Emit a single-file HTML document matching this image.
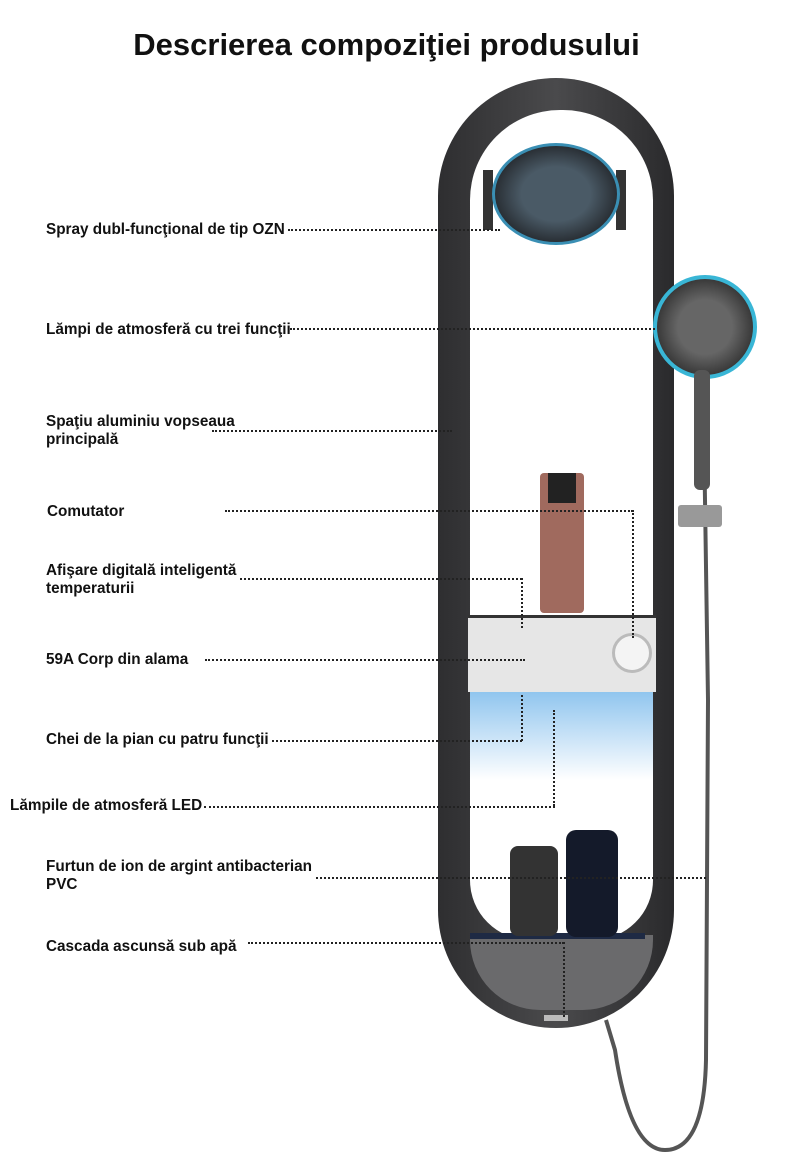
<!DOCTYPE html><html><head><style>
body{margin:0;width:789px;height:1165px;background:#fff;position:relative;overflow:hidden;font-family:"Liberation Sans",sans-serif}
.t{position:absolute;font-size:15.3px;font-weight:bold;color:#111;line-height:18px;white-space:nowrap}
.h{position:absolute;border-top:2px dotted #222;height:0}
.v{position:absolute;border-left:2px dotted #222;width:0}
</style></head><body>
<div style="position:absolute;top:27px;left:-8px;width:789px;text-align:center;font-size:31px;font-weight:bold;color:#111">Descrierea compoziţiei produsului</div>
<svg style="position:absolute;left:0;top:0" width="789" height="1165">
<path d="M703 380 L705 500 L708 700 L706 1060 Q704 1150 665 1150 Q630 1150 615 1050 L606 1020" fill="none" stroke="#555" stroke-width="4"/>
</svg>
<div style="position:absolute;left:438px;top:78px;width:236px;height:950px;border-radius:118px;background:linear-gradient(90deg,#2e2e30,#4a4a4c 50%,#2a2a2c)"></div>
<div style="position:absolute;left:470px;top:110px;width:183px;height:830px;background:#fff;border-radius:90px 90px 60px 60px"></div>
<div style="position:absolute;left:470px;top:690px;width:183px;height:90px;background:linear-gradient(#8ec4ee,#fff)"></div>
<div style="position:absolute;left:470px;top:935px;width:183px;height:75px;background:#6a6a6c;border-radius:0 0 70px 70px"></div>
<div style="position:absolute;left:470px;top:933px;width:175px;height:6px;background:#1e2a44"></div>
<div style="position:absolute;left:468px;top:615px;width:188px;height:74px;background:#e6e6e6;border-top:3px solid #333"></div>
<div style="position:absolute;left:612px;top:633px;width:34px;height:34px;border-radius:50%;border:3px solid #bbb;background:#f4f4f4"></div>
<div style="position:absolute;left:544px;top:1015px;width:24px;height:6px;background:#bbb"></div>
<div style="position:absolute;left:483px;top:170px;width:10px;height:60px;background:#333"></div>
<div style="position:absolute;left:616px;top:170px;width:10px;height:60px;background:#333"></div>
<div style="position:absolute;left:492px;top:143px;width:122px;height:96px;border-radius:50%;background:radial-gradient(#4a5a66 40%,#2a3036 70%);border:3px solid #3a8fb4"></div>
<div style="position:absolute;left:653px;top:275px;width:96px;height:96px;border-radius:50%;background:radial-gradient(#666 40%,#333 75%);border:4px solid #39b6d6"></div>
<div style="position:absolute;left:694px;top:370px;width:16px;height:120px;background:#555;border-radius:6px"></div>
<div style="position:absolute;left:678px;top:505px;width:44px;height:22px;background:#999;border-radius:3px"></div>
<div style="position:absolute;left:540px;top:473px;width:44px;height:140px;background:#a06a5e;border-radius:4px"></div>
<div style="position:absolute;left:548px;top:473px;width:28px;height:30px;background:#222"></div>
<div style="position:absolute;left:510px;top:846px;width:48px;height:90px;background:#333;border-radius:8px"></div>
<div style="position:absolute;left:566px;top:830px;width:52px;height:107px;background:#141a2a;border-radius:10px"></div>
<div class="t" style="left:46px;top:221px">Spray dubl-funcţional de tip OZN</div>
<div class="h" style="left:288px;top:229px;width:212px"></div>
<div class="t" style="left:46px;top:321px">Lămpi de atmosferă cu trei funcţii</div>
<div class="h" style="left:290px;top:328px;width:365px"></div>
<div class="t" style="left:46px;top:413px">Spaţiu aluminiu vopseaua<br>principală</div>
<div class="h" style="left:212px;top:430px;width:240px"></div>
<div class="t" style="left:47px;top:503px">Comutator</div>
<div class="h" style="left:225px;top:510px;width:408px"></div>
<div class="v" style="left:632px;top:510px;height:128px"></div>
<div class="t" style="left:46px;top:562px">Afişare digitală inteligentă<br>temperaturii</div>
<div class="h" style="left:240px;top:578px;width:282px"></div>
<div class="v" style="left:521px;top:578px;height:50px"></div>
<div class="t" style="left:46px;top:651px">59A Corp din alama</div>
<div class="h" style="left:205px;top:659px;width:320px"></div>
<div class="t" style="left:46px;top:731px">Chei de la pian cu patru funcţii</div>
<div class="h" style="left:272px;top:740px;width:250px"></div>
<div class="v" style="left:521px;top:695px;height:46px"></div>
<div class="t" style="left:10px;top:797px">Lămpile de atmosferă LED</div>
<div class="h" style="left:204px;top:806px;width:351px"></div>
<div class="v" style="left:553px;top:710px;height:96px"></div>
<div class="t" style="left:46px;top:858px">Furtun de ion de argint antibacterian<br>PVC</div>
<div class="h" style="left:316px;top:877px;width:390px"></div>
<div class="t" style="left:46px;top:938px">Cascada ascunsă sub apă</div>
<div class="h" style="left:248px;top:942px;width:316px"></div>
<div class="v" style="left:563px;top:942px;height:75px"></div>
</body></html>
